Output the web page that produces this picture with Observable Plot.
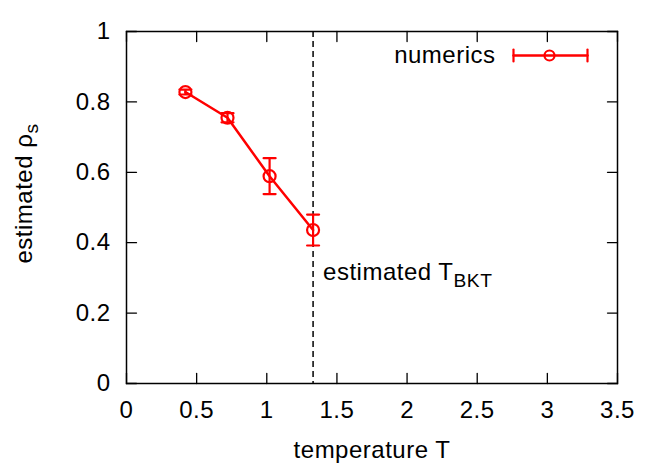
<!DOCTYPE html>
<html>
<head>
<meta charset="utf-8">
<script src="https://cdn.jsdelivr.net/npm/d3@7"></script>
<script src="https://cdn.jsdelivr.net/npm/@observablehq/plot@0.6"></script>
<style>
  html, body { margin: 0; padding: 0; background: white; }
</style>
</head>
<body>
<div id="chart"></div>
<script>
// Data
const temperature = [0.42, 0.72, 1.02, 1.33];
const rhoS = [0.828, 0.755, 0.589, 0.436];
const rhoErr = [0.007, 0.013, 0.051, 0.044];
const tBKT = 1.33;
const xTicks = [0, 0.5, 1, 1.5, 2, 2.5, 3, 3.5];
const yTicks = [0, 0.2, 0.4, 0.6, 0.8, 1];
const seriesName = "numerics";
const xLabel = "temperature T";
const yLabel = "estimated ρ";
const ySub = "s";
const annLabel = "estimated T";
const annSub = "BKT";

const data = temperature.map((t, i) => ({t, rho: rhoS[i], lo: rhoS[i] - rhoErr[i], hi: rhoS[i] + rhoErr[i]}));

const red = "#ff0000";
const lineShape = {draw(context, l) { context.moveTo(0, 0); context.lineTo(0, -l); }};
const tick = {length: 10, anchor: "start", shape: lineShape, stroke: "black", strokeWidth: 1.3};
const legendCap = {frameAnchor: "top-right", dy: 24, length: 12, rotate: 0, anchor: "middle", shape: lineShape, stroke: red, strokeWidth: 2.2};

const chart = Plot.plot({
  width: 664,
  height: 465,
  marginLeft: 126,
  marginRight: 47,
  marginTop: 31,
  marginBottom: 82,
  style: {fontFamily: "'Liberation Sans', Arial, Helvetica, sans-serif", fontSize: "24px", letterSpacing: "0.5px", color: "black", background: "white"},
  x: {domain: [0, 3.5]},
  y: {domain: [0, 1]},
  marks: [
    // inward ticks on all four sides
    Plot.vector(xTicks, {x: d => d, frameAnchor: "bottom", rotate: 0, ...tick}),
    Plot.vector(xTicks, {x: d => d, frameAnchor: "top", rotate: 180, ...tick}),
    Plot.vector(yTicks, {y: d => d, frameAnchor: "left", rotate: 90, ...tick}),
    Plot.vector(yTicks, {y: d => d, frameAnchor: "right", rotate: -90, ...tick}),
    Plot.axisX({ticks: xTicks, tickSize: 0, tickPadding: 17, label: null, tickFormat: d => String(d)}),
    Plot.axisY({ticks: yTicks, tickSize: 0, tickPadding: 16, label: null, tickFormat: d => String(d)}),
    Plot.frame({stroke: "black", strokeWidth: 1.5}),
    // T_BKT dashed line
    Plot.ruleX([tBKT], {stroke: "black", strokeWidth: 1.5, strokeDasharray: "6,4"}),
    Plot.text([tBKT], {x: d => d, frameAnchor: "bottom", dy: -111, dx: 10, textAnchor: "start", lineAnchor: "middle", text: () => annLabel, className: "ann-label"}),
    // series
    Plot.line(data, {x: "t", y: "rho", stroke: red, strokeWidth: 2.5}),
    Plot.ruleX(data, {x: "t", y1: "lo", y2: "hi", stroke: red, strokeWidth: 2.2}),
    Plot.vector(data, {x: "t", y: "hi", length: 12, rotate: 90, anchor: "middle", shape: lineShape, stroke: red, strokeWidth: 2.2}),
    Plot.vector(data, {x: "t", y: "lo", length: 12, rotate: 90, anchor: "middle", shape: lineShape, stroke: red, strokeWidth: 2.2}),
    Plot.dot(data, {x: "t", y: "rho", r: 6, stroke: red, strokeWidth: 2.2, fill: "none"}),
    // legend
    Plot.text([seriesName], {frameAnchor: "top-right", dx: -122, dy: 24, textAnchor: "end", lineAnchor: "middle"}),
    Plot.vector([seriesName], {frameAnchor: "top-right", dx: -104, dy: 24, length: 74, rotate: 90, anchor: "start", shape: lineShape, stroke: red, strokeWidth: 2.5}),
    Plot.vector([seriesName], {...legendCap, dx: -104}),
    Plot.vector([seriesName], {...legendCap, dx: -30}),
    Plot.dot([seriesName], {frameAnchor: "top-right", dx: -68, dy: 24, r: 5, stroke: red, strokeWidth: 2.2, fill: "none"}),
    // axis titles
    Plot.text([xLabel], {frameAnchor: "bottom", dy: 67, lineAnchor: "middle"}),
    Plot.text([yLabel], {frameAnchor: "left", dx: -102, dy: -14, rotate: -90, textAnchor: "middle", lineAnchor: "middle", className: "y-label"})
  ]
});

document.getElementById("chart").appendChild(chart);

// subscripts
function addSub(cls, sub, dyEm) {
  d3.select(chart).selectAll(`g.${cls} text`).each(function() {
    d3.select(this).append("tspan").attr("font-size", "0.8em").attr("dy", dyEm).text(sub);
  });
}
addSub("ann-label", annSub, "0.35em");
addSub("y-label", ySub, "0.3em");
</script>
</body>
</html>
